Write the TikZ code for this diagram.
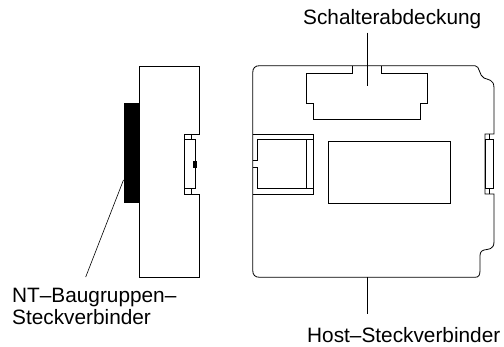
\documentclass[tikz,border=0pt]{standalone}
\usepackage{fontspec}
\setmainfont{Liberation Sans}
\usetikzlibrary{positioning}
\tikzset{
  part/.style={draw,line width=0.8pt},
  solid part/.style={draw,fill=black,line width=0.5pt},
  leader/.style={draw,line width=0.6pt},
  caption/.style={font=\fontsize{20.8}{22.7}\selectfont,inner sep=0pt,align=left}
}
\begin{document}
\begin{tikzpicture}[x=1pt,y=-1pt]
    \useasboundingbox (0,0) rectangle (504,347);

    % side view
    \draw[part] (139,66) -- (199,66) -- (199,134) -- (184.3,134) -- (184.3,194) -- (199,194) -- (199,277) -- (139,277) -- cycle;
    \draw[part] (184.3,139.3) rectangle (195.7,188.3);
    \draw[part] (191,134) -- (191,139.3) (191,188.3) -- (191,194);
    \node[solid part,minimum width=15.5pt,minimum height=98.7pt,inner sep=0pt,anchor=north west] (plug) at (123.5,103.3) {};
    \node[solid part,minimum width=2.5pt,minimum height=6.5pt,inner sep=0pt,anchor=north west] (latch) at (193,161) {};
    \coordinate (plugtip) at (123.5,180);
    \node[caption,anchor=base west] (plugtext) at (12,325) {NT–Baugruppen–\\Steckverbinder};
    \coordinate (plugend) at (85.7,277);
    \draw[leader] (plugtip) -- (plugend);

    % front view
    \draw[part] (259.7,65.7) -- (475,65.7) .. controls (480,65.7) and (479,76) .. (484,78) .. controls (488,80) and (494,79) .. (494,88) -- (494,134) -- (485,134) -- (485,194) -- (494,194) -- (494,241.7) .. controls (494,250) and (488,249) .. (484,250) .. controls (480,251) and (480,254) .. (480,258) -- (480,270) .. controls (480,275) and (479,277.3) .. (475,277.3) -- (259.7,277.3) .. controls (255,277.3) and (252.7,275) .. (252.7,270) -- (252.7,73) .. controls (252.7,68) and (255,65.7) .. (259.7,65.7);
    \draw[part] (252.7,134) -- (313.3,134) -- (313.3,194) -- (252.7,194);
    \draw[part] (252.7,160.7) -- (257,160.7) -- (257,139.5) -- (313.3,139.5) (252.7,167.3) -- (257,167.3) -- (257,188.3) -- (313.3,188.3);
    \draw[part] (306,139.5) -- (306,188.3);
    \draw[part] (352,65.7) -- (352,73.3) -- (306.3,73.3) -- (306.3,103.7) -- (313.3,103.7) -- (313.3,119) -- (420,119) -- (420,103.7) -- (427.3,103.7) -- (427.3,73.3) -- (381.7,73.3) -- (381.7,65.7);
    \node[part,minimum width=121.4pt,minimum height=61.4pt,inner sep=0pt,anchor=north west] (window) at (328.3,141.3) {};
    \draw[part] (485,139.3) rectangle (493.7,188.3);
    \draw[part] (489.3,134) -- (489.3,139.3) (489.3,188.3) -- (489.3,194);

    \node[caption,anchor=base west] (covertext) at (303,25) {Schalterabdeckung};
    \coordinate (covertop) at (367.3,32.7);
    \coordinate (covertip) at (367.3,86);
    \draw[leader] (covertop) -- (covertip);
    \node[caption,anchor=base west] (hosttext) at (307,342.3) {Host–Steckverbinder};
    \coordinate (hosttip) at (367,277.3);
    \coordinate (hostend) at (367,314.3);
    \draw[leader] (hosttip) -- (hostend);
\end{tikzpicture}
\end{document}
